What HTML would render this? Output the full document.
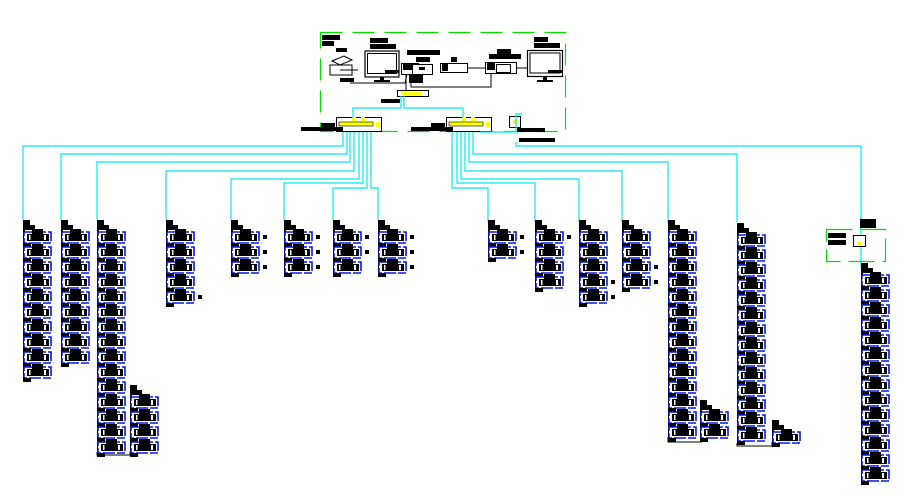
<!DOCTYPE html>
<html><head><meta charset="utf-8"><style>
html,body{margin:0;padding:0;background:#fff;width:914px;height:495px;overflow:hidden}
svg{display:block}
</style></head><body>
<svg id="s" width="914" height="495" viewBox="0 0 914 495" xmlns="http://www.w3.org/2000/svg">
<rect width="914" height="495" fill="#fff"/>
<rect x="320.5" y="32.5" width="245" height="99" fill="none" stroke="#00e000" stroke-width="1.2" stroke-dasharray="22,10"/>
<rect x="322" y="35" width="18" height="5" fill="#000"/><rect x="322" y="41" width="12" height="5" fill="#000"/>
<rect x="336" y="48" width="11" height="4" fill="#000"/>
<rect x="370" y="38" width="18" height="5" fill="#000"/><rect x="370" y="44" width="26" height="5" fill="#000"/>
<rect x="407" y="50" width="33" height="5" fill="#000"/><rect x="416" y="57" width="14" height="5" fill="#000"/>
<rect x="451" y="57" width="6" height="5" fill="#000"/>
<rect x="497" y="49" width="14" height="5" fill="#000"/><rect x="489" y="54" width="32" height="5" fill="#000"/>
<rect x="534" y="37" width="14" height="5" fill="#000"/><rect x="534" y="43" width="26" height="5" fill="#000"/>
<g stroke="#000" fill="#fff" stroke-width="1">
<polygon points="332,61 344,56 352,60 340,65"/>
<rect x="330" y="65" width="22" height="10"/>
<line x1="340" y1="70" x2="358" y2="70"/>
</g>
<rect x="340" y="78" width="14" height="4" fill="#000"/>
<rect x="365" y="51" width="34" height="26" fill="#fff" stroke="#000" stroke-width="1.2"/>
<rect x="367.5" y="53.5" width="29" height="20" fill="none" stroke="#000"/>
<rect x="380" y="77" width="4" height="3" fill="#000"/><rect x="374" y="80" width="16" height="2" fill="#000"/>
<rect x="385" y="70" width="14" height="3" fill="#000"/>
<rect x="401.5" y="63.5" width="17" height="11" fill="#fff" stroke="#000"/>
<rect x="403" y="64" width="9" height="6" fill="#000"/>
<rect x="412.5" y="64.5" width="20" height="10" fill="#fff" stroke="#000"/>
<rect x="419" y="67" width="6" height="3" fill="#000"/>
<rect x="409" y="75" width="14" height="8" fill="#000"/>
<rect x="440.5" y="63.5" width="27" height="9" fill="#fff" stroke="#000"/>
<rect x="442" y="64" width="6" height="7" fill="#000"/>
<line x1="467" y1="68" x2="486" y2="68" stroke="#000"/>
<rect x="485.5" y="62.5" width="31" height="11" fill="#fff" stroke="#000"/>
<rect x="487" y="63" width="8" height="7" fill="#000"/>
<rect x="496.5" y="64.5" width="14" height="8" fill="none" stroke="#000"/>
<line x1="516" y1="68" x2="528" y2="68" stroke="#000"/>
<rect x="527.5" y="50.5" width="35" height="26" fill="#fff" stroke="#000" stroke-width="1.2"/>
<rect x="530" y="53" width="30" height="20" fill="none" stroke="#000"/>
<rect x="543" y="77" width="4" height="3" fill="#000"/><rect x="537" y="80" width="16" height="2" fill="#000"/>
<rect x="548" y="70" width="14" height="3" fill="#000"/>
<g stroke="#000" stroke-width="1" fill="none">
<polyline points="350,83 405,83 407,74"/>
<polyline points="411,83 411,87 491,87 491,73"/>
<line x1="406" y1="74" x2="406" y2="95"/>
</g>
<rect x="397.5" y="90.5" width="31" height="6" fill="#fff" stroke="#000"/>
<rect x="402" y="92" width="20" height="3" fill="#ff0"/>
<rect x="381" y="99" width="19" height="4" fill="#000"/>
<rect x="336.5" y="117.5" width="45" height="14" fill="#fff" stroke="#000"/>
<rect x="339" y="122" width="34" height="4" fill="#ff0" stroke="#000" stroke-width=".6"/>
<rect x="352" y="117" width="4" height="4" fill="#ff0"/><rect x="361" y="117" width="4" height="4" fill="#ff0"/>
<rect x="376" y="122" width="4" height="5" fill="#ff0"/>
<rect x="446.5" y="117.5" width="45" height="14" fill="#fff" stroke="#000"/>
<rect x="449" y="122" width="34" height="4" fill="#ff0" stroke="#000" stroke-width=".6"/>
<rect x="462" y="117" width="4" height="4" fill="#ff0"/><rect x="471" y="117" width="4" height="4" fill="#ff0"/>
<rect x="486" y="122" width="4" height="5" fill="#ff0"/>
<rect x="301" y="127" width="42" height="4" fill="#000"/><rect x="321" y="123" width="14" height="4" fill="#000"/>
<rect x="411" y="127" width="42" height="4" fill="#000"/><rect x="431" y="123" width="14" height="4" fill="#000"/>
<rect x="509.5" y="116.5" width="11" height="11" fill="#fff" stroke="#000"/>
<rect x="513" y="120" width="4" height="4" fill="#ff0"/>
<rect x="517" y="128" width="28" height="4" fill="#000"/>
<rect x="519" y="138" width="36" height="4" fill="#000"/>
<g stroke="#00e8f0" stroke-width="1.2" fill="none">
<polyline points="353,118 353,108 401,108 401,96"/>
<polyline points="463,118 463,108 404,108 404,96"/>
<polyline points="480,132 516,132 516,114 522,114"/>
</g>
<g id="g"></g>
<rect x="826.5" y="229.5" width="59" height="32" fill="none" stroke="#00e000" stroke-width="1.2" stroke-dasharray="26,8"/>
<rect x="828" y="233" width="18" height="5" fill="#000"/><rect x="828" y="240" width="18" height="5" fill="#000"/>
<rect x="853.5" y="235.5" width="12" height="11" fill="#fff" stroke="#000"/>
<rect x="858" y="242" width="3" height="3" fill="#ff0"/>
<rect x="860" y="219" width="16" height="9" fill="#000"/>
</svg>
<script>
var g=document.getElementById('g'),h='';
function L(p){h+='<polyline points="'+p+'" fill="none" stroke="#00e8f0" stroke-width="1.2"/>';}
var left=[[343,146,23],[347,154,61],[350,162,97],[354,171,166],[359,179,231],[363,183,284],[367,188,333]];
left.forEach(function(a){L(a[0]+',132 '+a[0]+','+a[1]+' '+a[2]+','+a[1]+' '+a[2]+',220');});
L('371,132 371,188 378,188 378,220');
var right=[[452,188,488],[457,183,535],[461,179,579],[465,171,622],[469,162,668],[473,154,737]];
right.forEach(function(a){L(a[0]+',132 '+a[0]+','+a[1]+' '+a[2]+','+a[1]+' '+a[2]+',222');});
L('516,142 516,146 861,146 861,238');
L('861,247 861,268');
function dev(x,y,sq){
 h+='<rect x="'+(x+1)+'" y="'+y+'" width="27" height="11" fill="#fff" stroke="#0018e0" stroke-width="1.6" stroke-dasharray="12,2,8,2"/>';
 h+='<rect x="'+(x+4)+'" y="'+(y+2)+'" width="22" height="7" fill="#000"/>';
 h+='<rect x="'+(x+9)+'" y="'+(y-3)+'" width="11" height="5" fill="#000"/>';
 h+='<rect x="'+(x+21)+'" y="'+(y+3)+'" width="2" height="5" fill="#fff"/>';
 h+='<rect x="'+(x+6)+'" y="'+(y+3)+'" width="1.5" height="5" fill="#fff"/>';
 h+='<rect x="'+x+'" y="'+(y+11)+'" width="8" height="4" fill="#000"/>';
 if(sq)h+='<rect x="'+(x+32)+'" y="'+(y+3)+'" width="4" height="4" fill="#000"/>';
}
function col(x,y0,n,sq){
 h+='<rect x="'+x+'" y="'+(y0-12)+'" width="7" height="5" fill="#000"/><rect x="'+x+'" y="'+(y0-7)+'" width="12" height="5" fill="#000"/>';
 h+='<rect x="'+x+'" y="'+(y0-2)+'" width="2" height="'+(n*15)+'" fill="#000"/>';
 for(var i=0;i<n;i++)dev(x,y0+i*15,sq&&(sq===true||sq.indexOf(i)>=0));
}
col(23,232,10);col(61,232,9);col(97,232,15);col(130,397,4);
col(166,232,5,[4]);col(231,232,3,true);col(284,232,3,true);col(333,232,3,[0,1]);col(378,232,3,true);
col(488,232,2,true);col(535,232,4,[0]);col(579,232,5,[3,4]);col(622,232,4,[2,3]);
col(668,232,14);col(700,412,2);col(737,235,14);col(772,432,1);col(861,275,14);
h+='<polyline points="97,452 97,455 130,455 130,452" fill="none" stroke="#000"/>';
h+='<polyline points="668,437 668,442 702,442" fill="none" stroke="#000"/>';
h+='<polyline points="737,443 737,446 772,446 772,442" fill="none" stroke="#000"/>';
g.innerHTML=h;
</script>
</body></html>
